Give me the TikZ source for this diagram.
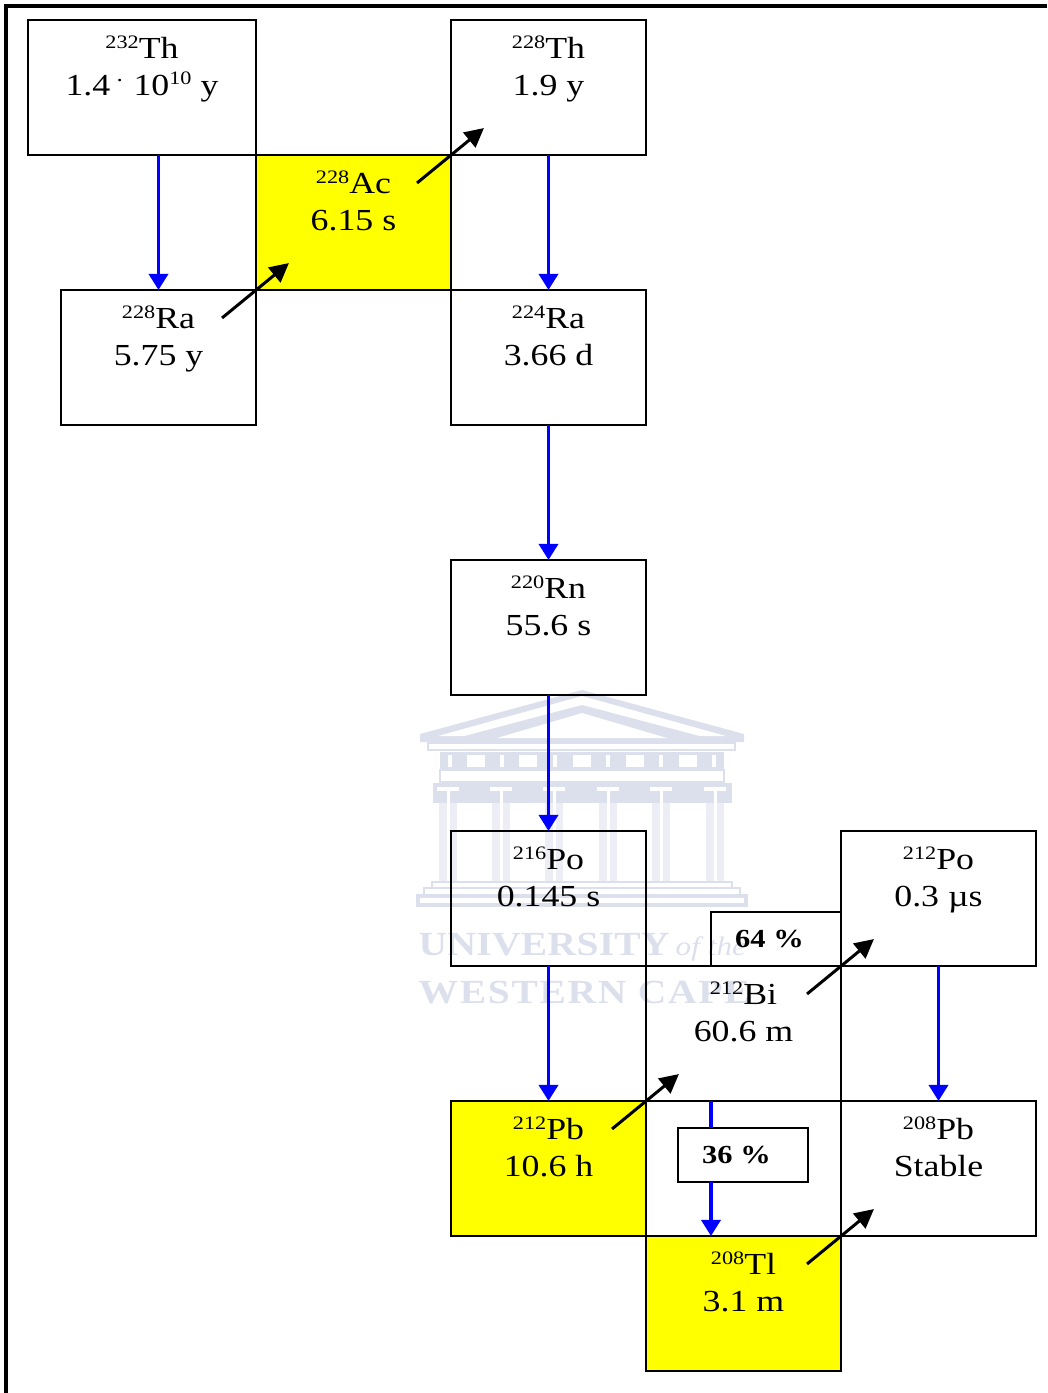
\documentclass[tikz,border=0pt]{standalone}
\usepackage{fontspec}
\setmainfont[FakeStretch=1.17]{Liberation Serif}
\usetikzlibrary{arrows.meta,calc}
\definecolor{crest}{HTML}{DCDFEC}
\definecolor{decayyellow}{HTML}{FFFF00}
\newcommand{\nuc}[2]{\raisebox{0.75ex}{\fontsize{5.4}{6}\selectfont #1}#2}
\newcommand{\nuctext}[3]{\nuc{#1}{#2}\\#3\\[0.08cm]\mbox{}}
\tikzset{
  nuclide/.style={draw=black,line width=0.6pt,inner sep=0pt,outer sep=0pt,minimum width=1.95cm,minimum height=1.35cm,align=center,font=\fontsize{8.7}{10.3}\selectfont},
  unstable/.style={nuclide,fill=decayyellow},
  branch/.style={draw=black,line width=0.6pt,inner sep=0pt,outer sep=0pt,minimum width=1.30cm,minimum height=0.54cm,font=\fontsize{7.4}{9}\selectfont\bfseries},
  alpha/.style={blue,line width=1pt,-{Triangle[length=1.6mm,width=1.9mm]}},
  alphaline/.style={blue,line width=1pt},
  beta/.style={black,line width=0.85pt,-{Triangle[length=1.9mm,width=1.9mm]}},
  crestline/.style={crest,line width=0.7pt}
}
\begin{document}
\begin{tikzpicture}[x=0.01cm,y=-0.01cm]
\useasboundingbox (0,0) rectangle (1047,1393);
% watermark
\fill[crest](420,734)--(582,690)--(744,734)--(744,742)--(420,742)--cycle;
\fill[white](438,736)--(582,696)--(726,736)--cycle;
\fill[crest](457,738)--(582,705)--(707,738)--cycle;
\fill[white](497,738)--(582,713)--(667,738)--cycle;
\draw[crestline](428,743) rectangle (735,750);
\fill[crest](440,752) rectangle (724,770);
\foreach \x in {476,528,582,635,688}{\fill[white](\x-9,755) rectangle (\x+9,767);}
\foreach \x in {450,502,555,608,661,714}{\fill[white](\x-2,755) rectangle (\x+2,767);}
\draw[crestline](440,770) rectangle (724,782);
\fill[crest](433,783) rectangle (732,803);
\foreach \x in {448,501,554,608,661,715}{
  \fill[white](\x-11,787) rectangle (\x+11,791);
  \fill[crest!55](\x-9,803) rectangle (\x+9,882);
  \fill[white](\x-1.5,791) rectangle (\x+1.5,882);
}
\draw[crestline](432,882) rectangle (732,888);
\draw[crestline](424,888) rectangle (740,896);
\draw[crestline,line width=1.1pt](418,896) rectangle (746,905);
\node[crest,inner sep=0pt,anchor=base west] (univ) at (418,955) {\fontsize{9.6}{11}\selectfont\bfseries\addfontfeatures{LetterSpace=1}UNIVERSITY};
\node[crest,inner sep=0pt,anchor=base west] (ofthe) at (675,955) {\fontsize{7.6}{11}\selectfont\itshape of the};
\node[crest,inner sep=0pt,anchor=base west] (cape) at (418,1003) {\fontsize{9.6}{11}\selectfont\bfseries\addfontfeatures{LetterSpace=5}WESTERN CAPE};
% nuclides
\node[nuclide,minimum width=2.28cm] (th232) at (142,87.5) {\nuc{232}{Th}\\1.4\textsuperscript{ .} 10\raisebox{0.75ex}{\fontsize{5.4}{6}\selectfont 10} y\\[0.08cm]\mbox{}};
\node[nuclide] (th228) at (548.5,87.5) {\nuctext{228}{Th}{1.9 y}};
\node[unstable] (ac228) at (353.5,222.5) {\nuctext{228}{Ac}{6.15 s}};
\node[nuclide] (ra228) at (158.5,357.5) {\nuctext{228}{Ra}{5.75 y}};
\node[nuclide] (ra224) at (548.5,357.5) {\nuctext{224}{Ra}{3.66 d}};
\node[nuclide] (rn220) at (548.5,627.5) {\nuctext{220}{Rn}{55.6 s}};
\node[nuclide] (po216) at (548.5,898.5) {\nuctext{216}{Po}{0.145 s}};
\node[nuclide] (po212) at (938.5,898.5) {\nuctext{212}{Po}{0.3 µs}};
\node[nuclide] (bi212) at (743.5,1033.5) {\nuctext{212}{Bi}{60.6 m}};
\node[unstable] (pb212) at (548.5,1168.5) {\nuctext{212}{Pb}{10.6 h}};
\node[nuclide] (pb208) at (938.5,1168.5) {\nuctext{208}{Pb}{Stable}};
\node[unstable] (tl208) at (743.5,1303.5) {\nuctext{208}{Tl}{3.1 m}};
\node[branch] (pct64) at (776,939) {64 \%\kern0.13cm};
\node[branch] (pct36) at (743,1155) {36 \%\kern0.13cm};
% frame
\coordinate (framea) at (6,1393); \coordinate (frameb) at (6,6); \coordinate (framec) at (1047,6);
\draw[line width=1.1pt](framea)--(frameb)--(framec);
% alpha decays
\draw[alpha](ra228.north |- th232.south)--(ra228.north);
\draw[alpha](th228.south)--(ra224.north);
\draw[alpha](ra224.south)--(rn220.north);
\draw[alpha](rn220.south)--(po216.north);
\draw[alpha](po216.south)--(pb212.north);
\draw[alpha](po212.south)--(pb208.north);
\coordinate (bisplit) at (711,1101);
\draw[alphaline](bisplit)--(bisplit |- pct36.north);
\draw[alpha](bisplit |- pct36.south)--(bisplit |- tl208.north);
% beta decays
\foreach \a/\b in {ra228/ac228,ac228/th228,pb212/bi212,bi212/po212,tl208/pb208}{
  \draw[beta]($(\a.north east)+(-34,28)$)--($(\b.south west)+(33,-27)$);
}
\end{tikzpicture}
\end{document}
